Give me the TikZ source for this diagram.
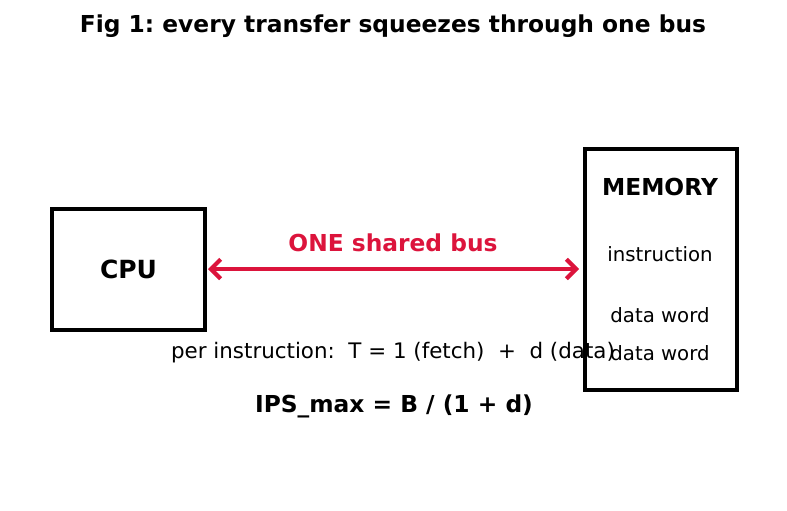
\documentclass[tikz,border=0pt]{standalone}
\usepackage{fontspec}
\setmainfont{DejaVu Sans}
\usepackage{tikz}
\usetikzlibrary{arrows.meta, positioning}
\definecolor{buscol}{HTML}{DC143C}
\frenchspacing

\begin{document}
\begin{tikzpicture}[x=0.72pt, y=-0.72pt,
    unit/.style={draw, line width=2.9pt, inner sep=0pt},
    label/.style={font=\fontsize{14.2}{16}\selectfont},
    heading/.style={font=\fontsize{16.8}{19}\bfseries},
    busarrow/.style={{Straight Barb[length=7pt,width=14pt,line width=3pt]}-{Straight Barb[length=7pt,width=14pt,line width=3pt]}, line width=3pt, buscol, line cap=round}]
    \useasboundingbox (0,0) rectangle (787,510);
    \node[heading] (title) at (393,26.5) {Fig 1: every transfer squeezes through one bus};
    \node[unit, minimum width=153*0.72pt, minimum height=121*0.72pt] (cpu) at (128.5,269.5) {};
    \node[font=\fontsize{18}{20}\bfseries] (cpulab) at (cpu.center) {CPU};
    \node[unit, minimum width=152*0.72pt, minimum height=241*0.72pt] (mem) at (661,269.5) {};
    \node[heading] (memlab) at (660,187) {MEMORY};
    \node[label] (instr) at (660,254) {instruction};
    \node[label] (word1) at (660,315) {data word};
    \node[label] (word2) at (660,353) {data word};
    \coordinate (busL) at (208,269);
    \coordinate (busR) at (579,269);
    \draw[busarrow] (busL) -- (busR);
    \node[heading, buscol] (buslab) at (393,243) {ONE shared bus};
    \node[font=\fontsize{15.4}{18}\selectfont] (cost) at (393,353) {per instruction:\ \ T = 1 (fetch)\ \ +\ \ d (data)};
    \node[heading] (ips) at (394,406) {IPS\_max = B / (1 + d)};
\end{tikzpicture}
\end{document}
